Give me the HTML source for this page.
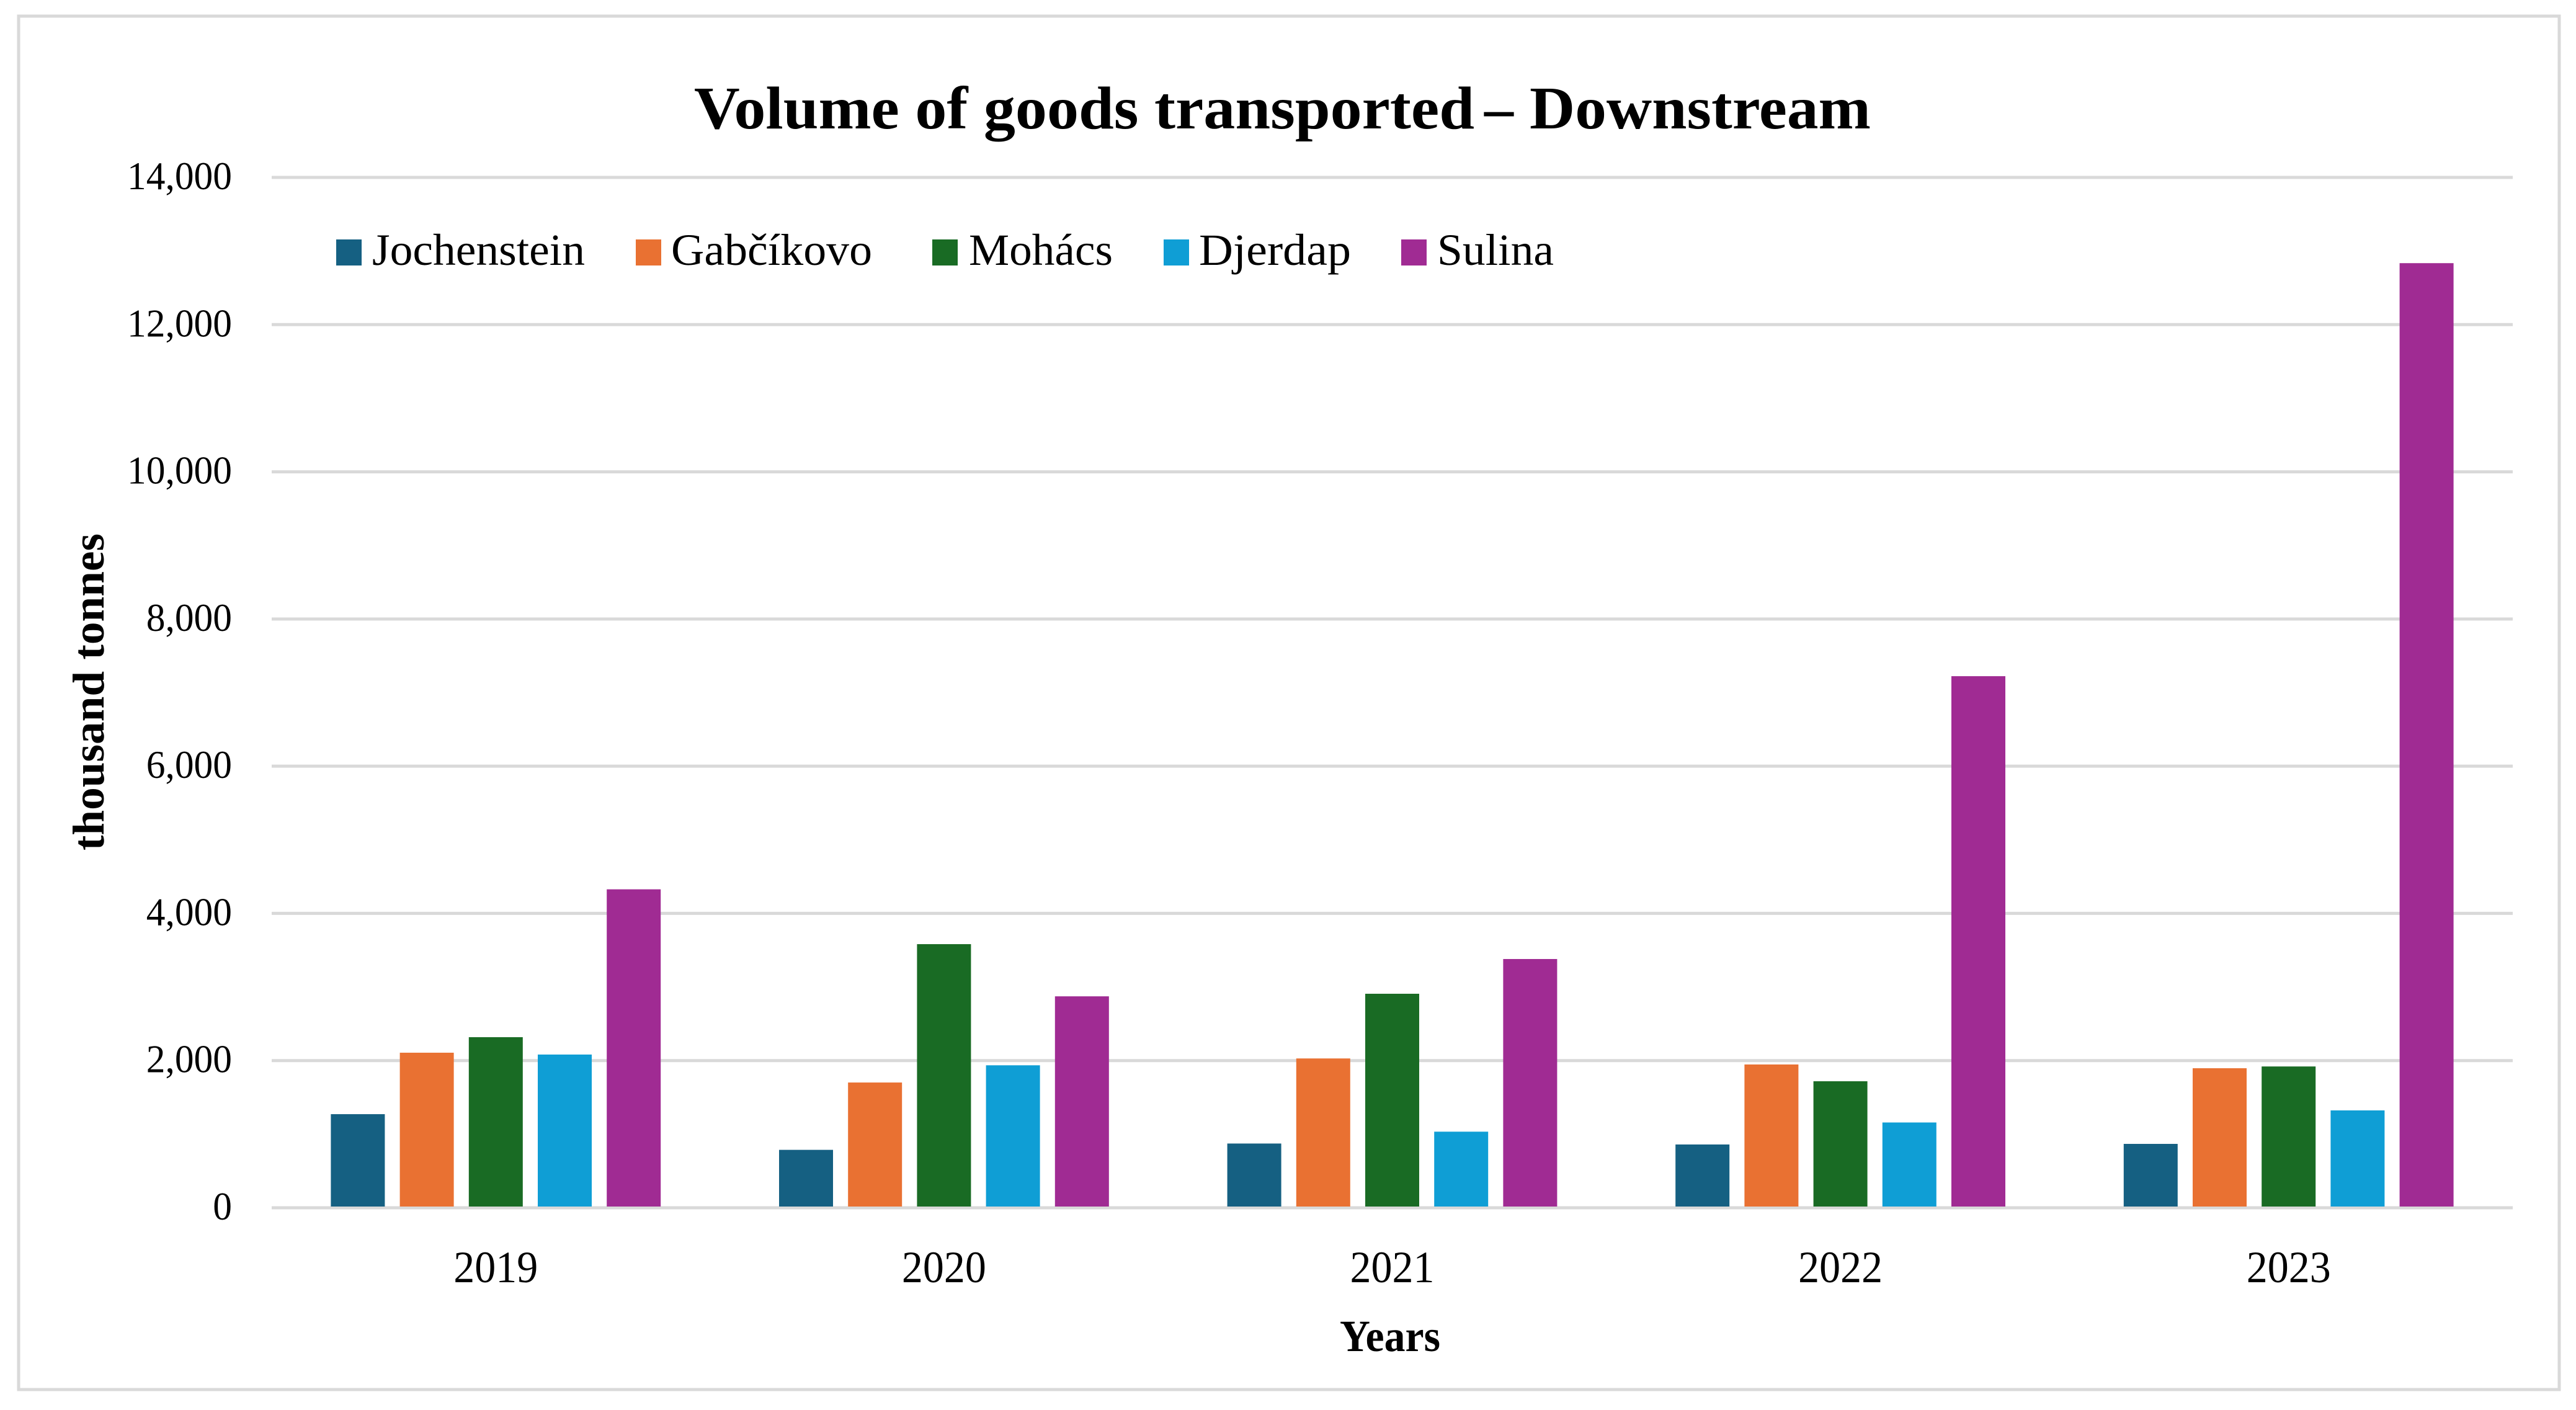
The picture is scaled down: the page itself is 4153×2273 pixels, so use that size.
<!DOCTYPE html>
<html lang="en">
<head>
<meta charset="utf-8">
<title>Volume of goods transported – Downstream</title>
<style>
html,body{margin:0;padding:0;background:#fff;width:4153px;height:2273px;overflow:hidden}
svg{display:block}
text{font-family:"Liberation Serif",serif;fill:#000}
</style>
</head>
<body>
<svg id="chart" xmlns="http://www.w3.org/2000/svg" width="4153" height="2273" viewBox="0 0 4153 2273">
  <rect x="30" y="26" width="4096" height="2214" fill="#fff" stroke="#d9d9d9" stroke-width="5"/>
  <text y="207" font-size="98" font-weight="700"><tspan x="1119" textLength="1258" lengthAdjust="spacingAndGlyphs">Volume of goods transported</tspan><tspan x="2393"> </tspan><tspan x="2393" textLength="47" lengthAdjust="spacingAndGlyphs">–</tspan><tspan x="2440"> </tspan><tspan x="2466" textLength="550" lengthAdjust="spacingAndGlyphs">Downstream</tspan></text>
  <g id="grid"></g>
  <g id="yticks"></g>
  <g id="bars"></g>
  <g id="xticks"></g>
  <g>
    <g>
      <rect x="542" y="386" width="41" height="42" fill="#156082"/>
      <text x="600" y="427" font-size="72" textLength="343" lengthAdjust="spacingAndGlyphs">Jochenstein</text>
    </g>
    <g>
      <rect x="1025" y="386" width="41" height="42" fill="#E97132"/>
      <text x="1082" y="427" font-size="72" textLength="324" lengthAdjust="spacingAndGlyphs">Gabčíkovo</text>
    </g>
    <g>
      <rect x="1503" y="386" width="41" height="42" fill="#196B24"/>
      <text x="1562" y="427" font-size="72" textLength="232" lengthAdjust="spacingAndGlyphs">Mohács</text>
    </g>
    <g>
      <rect x="1876" y="386" width="41" height="42" fill="#0F9ED5"/>
      <text x="1933" y="427" font-size="72" textLength="245" lengthAdjust="spacingAndGlyphs">Djerdap</text>
    </g>
    <g>
      <rect x="2259" y="386" width="41" height="42" fill="#A02B93"/>
      <text x="2317" y="427" font-size="72" textLength="188" lengthAdjust="spacingAndGlyphs">Sulina</text>
    </g>
  </g>
  <text transform="translate(167 1371) rotate(-90)" x="0" y="0" font-size="72" font-weight="700" textLength="511" lengthAdjust="spacingAndGlyphs">thousand tonnes</text>
  <text x="2160" y="2178" font-size="72" font-weight="700" textLength="162" lengthAdjust="spacingAndGlyphs">Years</text>
</svg>
<script>
const categories = ["2019", "2020", "2021", "2022", "2023"];
const seriesNames = ["Jochenstein", "Gabčíkovo", "Mohács", "Djerdap", "Sulina"];
const seriesColors = ["#156082", "#E97132", "#196B24", "#0F9ED5", "#A02B93"];
const jochenstein = [1272, 787, 873, 860, 868];
const gabcikovo = [2107, 1702, 2029, 1947, 1896];
const mohacs = [2318, 3582, 2908, 1719, 1920];
const djerdap = [2082, 1936, 1034, 1159, 1323];
const sulina = [4327, 2873, 3380, 7223, 12835];
const tickValues = [0, 2000, 4000, 6000, 8000, 10000, 12000, 14000];
const tickLabels = ["0", "2,000", "4,000", "6,000", "8,000", "10,000", "12,000", "14,000"];

const NS = "http://www.w3.org/2000/svg";
const series = [jochenstein, gabcikovo, mohacs, djerdap, sulina];
const plot = {left: 438, right: 4051, zero: 1947, top: 286, max: 14000};
const band = (plot.right - plot.left) / categories.length;
const barWidth = 87;
const barPitch = 111.2;

function yScale(v) {
  return plot.zero - (v / plot.max) * (plot.zero - plot.top);
}
function xBand(i) {
  return plot.left + (i + 0.5) * band;
}
function slug(s) {
  return s.normalize("NFD").replace(/[^a-zA-Z0-9]/g, "").toLowerCase();
}

const gridGroup = document.getElementById("grid");
const yGroup = document.getElementById("yticks");
tickValues.forEach(function (t, i) {
  const line = document.createElementNS(NS, "line");
  
  
  line.setAttribute("x1", plot.left);
  line.setAttribute("x2", plot.right);
  line.setAttribute("y1", yScale(t));
  line.setAttribute("y2", yScale(t));
  line.setAttribute("stroke", "#d9d9d9");
  line.setAttribute("stroke-width", "5");
  gridGroup.appendChild(line);

  const label = document.createElementNS(NS, "text");
  
  
  const str = tickLabels[i];
  const digits = str.replace(/,/g, "").length;
  const commas = str.length - digits;
  const width = 0.96 * (digits * 32 + commas * 16);
  label.setAttribute("x", 374 - width);
  label.setAttribute("y", yScale(t) + 19);
  label.setAttribute("font-size", "64");
  label.setAttribute("textLength", width);
  label.setAttribute("lengthAdjust", "spacingAndGlyphs");
  label.textContent = str;
  yGroup.appendChild(label);
});

const barGroup = document.getElementById("bars");
const xGroup = document.getElementById("xticks");
categories.forEach(function (cat, i) {
  series.forEach(function (values, s) {
    const rect = document.createElementNS(NS, "rect");
    
    
    const cx = xBand(i) + (s - 2) * barPitch;
    const top = yScale(values[i]);
    rect.setAttribute("x", cx - barWidth / 2);
    rect.setAttribute("y", top);
    rect.setAttribute("width", barWidth);
    rect.setAttribute("height", Math.max(0, plot.zero - 2 - top));
    rect.setAttribute("fill", seriesColors[s]);
    barGroup.appendChild(rect);
  });

  const label = document.createElementNS(NS, "text");
  
  
  label.setAttribute("x", xBand(i) - 68);
  label.setAttribute("y", 2067);
  label.setAttribute("font-size", "72");
  label.setAttribute("textLength", "136");
  label.setAttribute("lengthAdjust", "spacingAndGlyphs");
  label.textContent = cat;
  xGroup.appendChild(label);
});
</script>
</body>
</html>
